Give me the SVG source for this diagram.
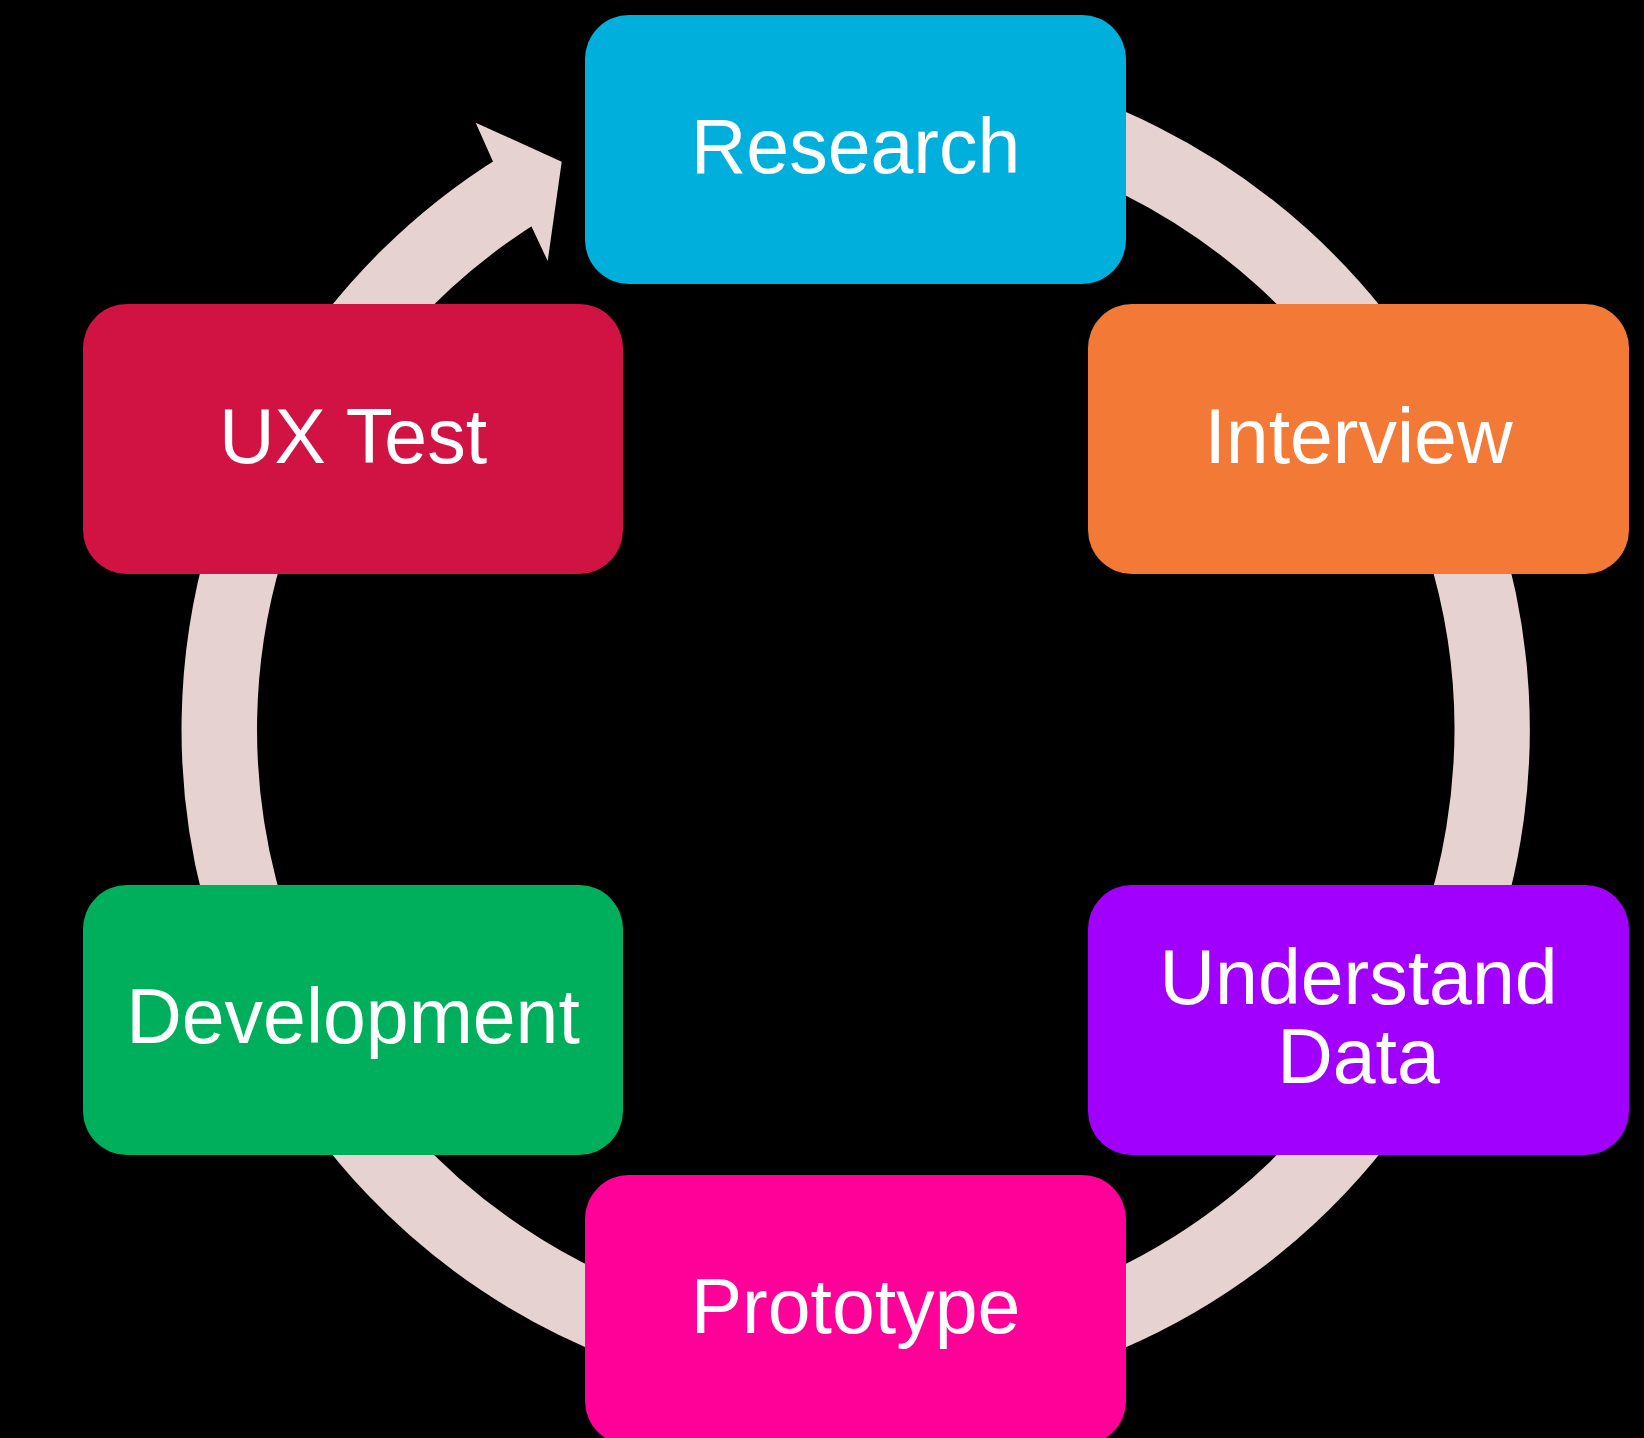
<svg xmlns="http://www.w3.org/2000/svg" width="1644" height="1438" viewBox="0 0 1644 1438">
  <style>
    .box { stroke: none; }
    .lbl { font-family: "Liberation Sans", Arial, sans-serif; font-size: 77px; fill: #FFFFFF; text-anchor: middle; }
    .ring { fill: none; stroke: #E7D2D2; stroke-width: 75.5; }
  </style>
  <rect x="0" y="0" width="1644" height="1438" fill="#000000"/>
  <g id="connectors">
    <path class="ring" d="M 690.8 115.0 A 636.4 636.4 0 1 1 520.0 189.0"/>
    <polygon points="475.7,122.7 561.7,161.7 547.7,261 531.5,226.5 492.5,160.5" fill="#E7D2D2"/>
  </g>
  <g id="node-research">
    <rect class="box" x="585" y="15" width="541" height="269" rx="44" fill="#00AFDB"/>
    <text class="lbl" x="855.5" y="173">Research</text>
  </g>
  <g id="node-interview">
    <rect class="box" x="1088" y="304" width="541" height="270" rx="44" fill="#F37937"/>
    <text class="lbl" x="1358.5" y="463">Interview</text>
  </g>
  <g id="node-understand-data">
    <rect class="box" x="1088" y="885" width="541" height="270" rx="44" fill="#A100FF"/>
    <text class="lbl"><tspan x="1358.5" y="1004">Understand</tspan><tspan x="1358.5" y="1083">Data</tspan></text>
  </g>
  <g id="node-prototype">
    <rect class="box" x="585" y="1175" width="541" height="270" rx="44" fill="#FF0098"/>
    <text class="lbl" x="855.5" y="1333">Prototype</text>
  </g>
  <g id="node-development">
    <rect class="box" x="83" y="885" width="540" height="270" rx="44" fill="#00AF5B"/>
    <text class="lbl" x="353" y="1043">Development</text>
  </g>
  <g id="node-ux-test">
    <rect class="box" x="83" y="304" width="540" height="270" rx="44" fill="#D01343"/>
    <text class="lbl" x="353" y="463">UX Test</text>
  </g>
</svg>
